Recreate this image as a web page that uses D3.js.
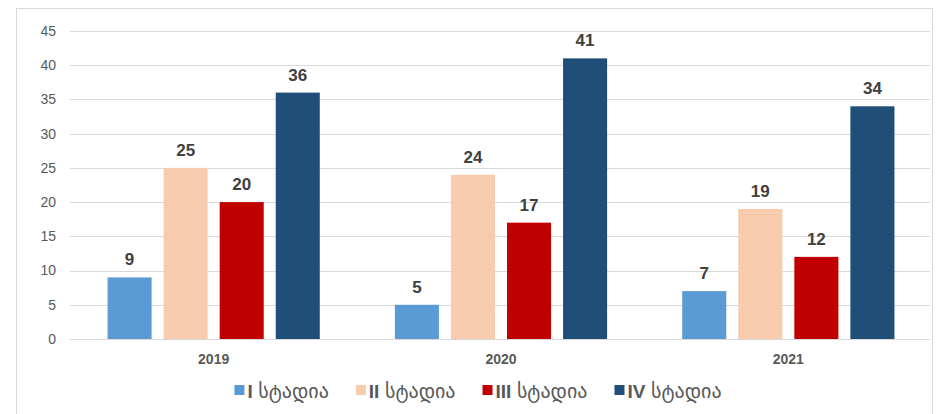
<!DOCTYPE html>
<html>
<head>
<meta charset="utf-8">
<script src="https://cdn.jsdelivr.net/npm/d3@7"></script>
<style>
  html, body { margin: 0; padding: 0; background: #fff; }
  svg { display: block; font-family: "Liberation Sans", Arial, "DejaVu Sans", sans-serif; }
</style>
</head>
<body>
<svg id="chart" width="943" height="414"></svg>
<script>
// Patients by cancer stage, per year
const years = ["2019", "2020", "2021"];
const stages = ["I სტადია", "II სტადია", "III სტადია", "IV სტადია"];
const stageColors = ["#5b9bd5", "#f8cbad", "#c00000", "#1f4e79"];
const stageI = [9, 5, 7];
const stageII = [25, 24, 19];
const stageIII = [20, 17, 12];
const stageIV = [36, 41, 34];
const yTicks = [0, 5, 10, 15, 20, 25, 30, 35, 40, 45];

const seriesValues = [stageI, stageII, stageIII, stageIV];
const rows = years.map((yr, i) => ({
  year: yr,
  values: stages.map((s, k) => ({ stage: s, k, value: seriesValues[k][i] }))
}));

const svg = d3.select("#chart");
const W = 943, H = 414;
const plot = { left: 70, right: 932, top: 31, bottom: 339 };

// outer frame
svg.append("rect")
  .attr("x", 16.5).attr("y", 8.5)
  .attr("width", 932 - 16).attr("height", H)
  .attr("fill", "none").attr("stroke", "#d9d9d9").attr("stroke-width", 1);

const x0 = d3.scaleBand().domain(years).range([plot.left, plot.right]).padding(0);
const x1 = d3.scaleBand().domain(stages).range([0, x0.bandwidth()])
  .paddingInner(12 / 56).paddingOuter(0.67);
const y = d3.scaleLinear().domain([0, 45]).range([plot.bottom, plot.top]);

// horizontal gridlines
svg.append("g").selectAll("line").data(yTicks).join("line")
  .attr("x1", plot.left).attr("x2", plot.right - 2)
  .attr("y1", d => Math.round(y(d)) + 0.5).attr("y2", d => Math.round(y(d)) + 0.5)
  .attr("stroke", "#d9d9d9").attr("stroke-width", 1);

// y-axis tick labels
svg.append("g").selectAll("text").data(yTicks).join("text")
  .attr("x", 56).attr("y", d => y(d))
  .attr("dy", "0.35em").attr("text-anchor", "end")
  .attr("font-size", 14).attr("fill", "#595959")
  .text(d => d);

// bars
const groups = svg.append("g").selectAll("g").data(rows).join("g")
  .attr("transform", d => `translate(${x0(d.year)},0)`);

groups.selectAll("rect").data(d => d.values).join("rect")
  .attr("x", d => x1(d.stage))
  .attr("y", d => y(d.value))
  .attr("width", x1.bandwidth())
  .attr("height", d => y(0) - y(d.value))
  .attr("fill", d => stageColors[d.k]);

// value labels
groups.selectAll("text").data(d => d.values).join("text")
  .attr("x", d => x1(d.stage) + x1.bandwidth() / 2)
  .attr("y", d => y(d.value) - 12)
  .attr("text-anchor", "middle")
  .attr("font-size", 17).attr("font-weight", "bold").attr("fill", "#404040")
  .text(d => d.value);

// year labels
svg.append("g").selectAll("text").data(years).join("text")
  .attr("x", d => x0(d) + x0.bandwidth() / 2)
  .attr("y", 364)
  .attr("text-anchor", "middle")
  .attr("font-size", 14).attr("font-weight", "bold").attr("fill", "#595959")
  .text(d => d);

// legend: laid out left to right, then centred
const legend = svg.append("g");
let lx = 0;
stages.forEach((s, k) => {
  const item = legend.append("g").attr("transform", `translate(${lx},0)`);
  item.append("rect").attr("x", 0).attr("y", 385).attr("width", 10).attr("height", 10)
    .attr("fill", stageColors[k]);
  const parts = s.split(" ");
  const t = item.append("text").attr("x", 13).attr("y", 398).attr("fill", "#595959");
  t.append("tspan").attr("font-weight", "bold").attr("font-size", 19).text(parts[0]);
  t.append("tspan").attr("font-size", 20).text(" " + parts.slice(1).join(" "));
  lx += 13 + t.node().getComputedTextLength() + (k < stages.length - 1 ? 27 : 0);
});
legend.attr("transform", `translate(${478 - lx / 2},0)`);
</script>
</body>
</html>
